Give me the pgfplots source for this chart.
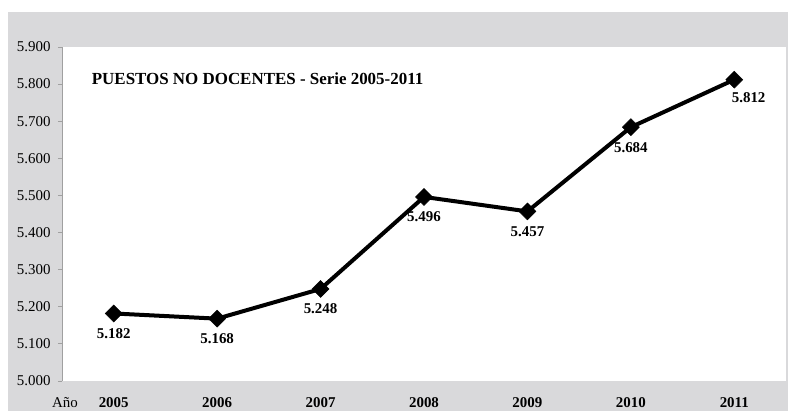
\documentclass[border=0pt]{standalone}
\usepackage{fontspec}
\setmainfont{Liberation Serif}
\usepackage{pgfplots}
\pgfplotsset{compat=1.18}
\definecolor{bggrey}{RGB}{217,217,219}
\definecolor{axgrey}{RGB}{160,160,160}
\begin{document}
\begin{tikzpicture}[x=1bp,y=1bp]
\path[use as bounding box] (-62,-30) rectangle (726,381);
\fill[bggrey] (-54,-30) rectangle (726,369);
\fill[white] (0,0) rectangle (724,334);
\begin{axis}[
  at={(0,0)}, anchor=south west,
  scale only axis, width=724bp, height=334bp,
  xmin=-0.5, xmax=6.5, ymin=5000, ymax=5900,
  ytick={5000,5100,5200,5300,5400,5500,5600,5700,5800,5900},
  xtick={0,1,2,3,4,5,6},
  xticklabels={2005,2006,2007,2008,2009,2010,2011},
  axis lines*=left,
  x axis line style={draw=none},
  y axis line style={axgrey, line width=0.8bp},
  xtick style={draw=none},
  ytick style={axgrey, line width=0.8bp},
  tick align=outside,
  major tick length=4bp,
  /pgf/number format/assume math mode=true,
  /pgf/number format/.cd, fixed, precision=0, 1000 sep={.},
  /pgfplots/.cd,
  yticklabel style={font=\fontsize{15}{17}\selectfont, xshift=-4bp},
  xticklabel style={font=\bfseries\fontsize{15}{17}\selectfont, yshift=-9bp},
  clip=false,
]
\addplot[black, line width=4bp, mark=square*, mark size=6bp, mark options={solid, line width=0.5bp, rotate=45}]
  coordinates {(0,5182) (1,5168) (2,5248) (3,5496) (4,5457) (5,5684) (6,5812)};
\addplot[draw=none, no marks, nodes near coords,
  nodes near coords style={anchor=north, yshift=-11.5bp, font=\bfseries\fontsize{15}{17}\selectfont, /pgf/number format/.cd, fixed, precision=0, 1000 sep={.}, assume math mode=true}]
  coordinates {(0,5182) (1,5168) (2,5248) (3,5496) (4,5457) (5,5684)};
\addplot[draw=none, no marks, nodes near coords,
  nodes near coords style={anchor=north west, xshift=-6bp, yshift=-9bp, font=\bfseries\fontsize{15}{17}\selectfont, /pgf/number format/.cd, fixed, precision=0, 1000 sep={.}, assume math mode=true}]
  coordinates {(6,5812)};
\node[anchor=west, inner sep=0pt, font=\bfseries\fontsize{17}{20}\selectfont] at (rel axis cs:0.041,0.905) {PUESTOS NO DOCENTES - Serie 2005-2011};
\end{axis}
\node[font=\fontsize{15}{17}\selectfont] at (3,-22) {Año};
\end{tikzpicture}
\end{document}
